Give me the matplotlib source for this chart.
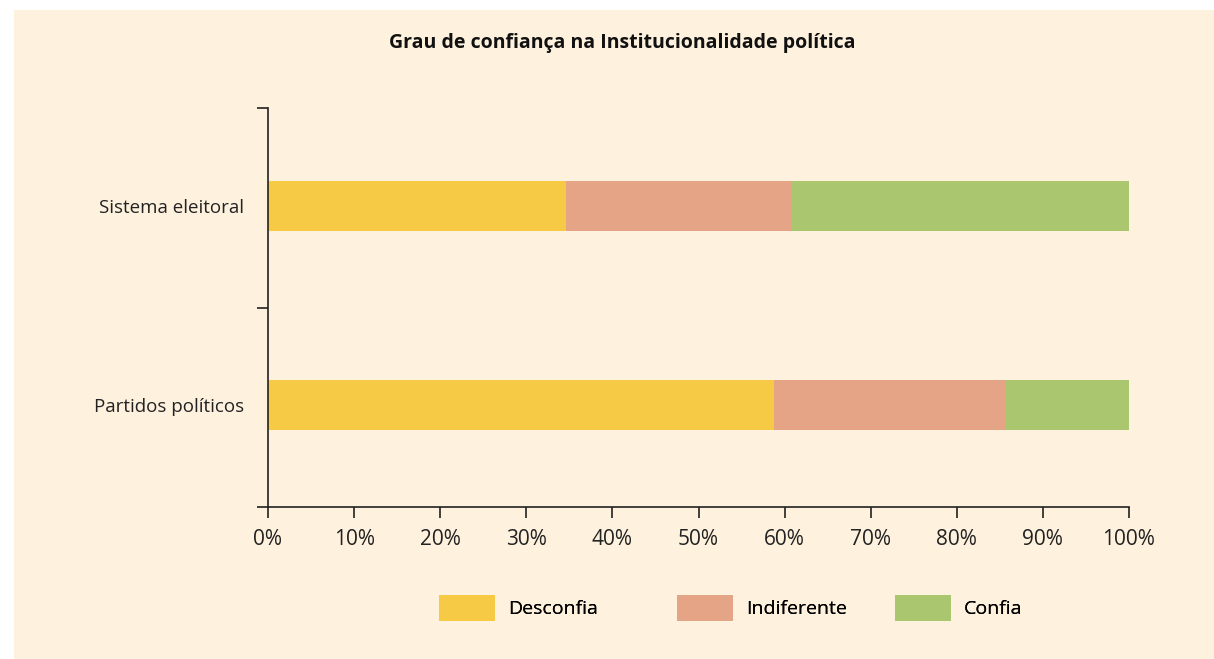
import numpy as np
import matplotlib
matplotlib.use("Agg")
import matplotlib.pyplot as plt
from matplotlib.patches import Rectangle, Patch

# -----------------------------
# Data
# -----------------------------
categories = ["Sistema eleitoral", "Partidos políticos"]
series = ["Desconfia", "Indiferente", "Confia"]
desconfia = [34.6, 58.8]
indiferente = [26.3, 26.9]
confia = [39.1, 14.3]
xticks = [0, 10, 20, 30, 40, 50, 60, 70, 80, 90, 100]
colors = ["#F6CA45", "#E5A485", "#AAC66F"]

plt.rcParams["font.family"] = ["Open Sans", "DejaVu Sans"]
bg = "#FEF2DE"
W, H = 1214, 659

fig = plt.figure(figsize=(W / 100, H / 100), dpi=100)
fig.patch.set_facecolor("white")
# cream panel behind everything
fig.add_artist(Rectangle((14 / W, 0), 1 - 14 / W, 1 - 10 / H,
                         transform=fig.transFigure, facecolor=bg,
                         edgecolor="none", zorder=-10))

ax = fig.add_axes([268 / W, 1 - 507 / H, (1129 - 268) / W, 399 / H])
ax.set_facecolor("none")

ypos = np.arange(len(categories))
left = np.zeros(len(categories))
for vals, col, name in zip([desconfia, indiferente, confia], colors, series):
    ax.barh(ypos, vals, left=left, height=0.25, color=col, label=name)
    left = left + np.array(vals)

ax.set_xlim(0, 100)
ax.set_ylim(1.51, -0.49)
ax.set_xticks(xticks)
ax.set_xticklabels([f"{t}%" for t in xticks], fontsize=15, color="#222222")
ax.set_yticks([-0.49, 0.51, 1.51])
ax.set_yticklabels([])
ax.set_yticks(ypos, minor=True)
ax.set_yticklabels(categories, minor=True, fontsize=13.5, color="#222222")
ax.tick_params(axis="y", which="minor", length=0, pad=17)
ax.tick_params(axis="y", which="major", length=8, width=1.2, color="#222222")
ax.tick_params(axis="x", length=8, width=1.2, color="#222222", pad=8)
for s in ["top", "right"]:
    ax.spines[s].set_visible(False)
for s in ["left", "bottom"]:
    ax.spines[s].set_linewidth(1.2)
    ax.spines[s].set_color("#222222")

fig.text(622 / W, 1 - 43 / H, "Grau de confiança na Institucionalidade política",
         ha="center", va="center", fontsize=14, fontweight="bold", color="#111111")

# legend entries, one per series, placed like the original
legend_x = [439, 677, 895]
for name, col, lx in zip(series, colors, legend_x):
    leg = fig.legend([Patch(facecolor=col, edgecolor="none")], [name],
                     loc="center left", bbox_to_anchor=(lx / W, 1 - 608 / H),
                     frameon=False, fontsize=14, handlelength=2.9, handleheight=1.75,
                     handletextpad=0.65, borderpad=0, borderaxespad=0)
    fig.add_artist(leg)

fig.savefig("out.png", dpi=100)
